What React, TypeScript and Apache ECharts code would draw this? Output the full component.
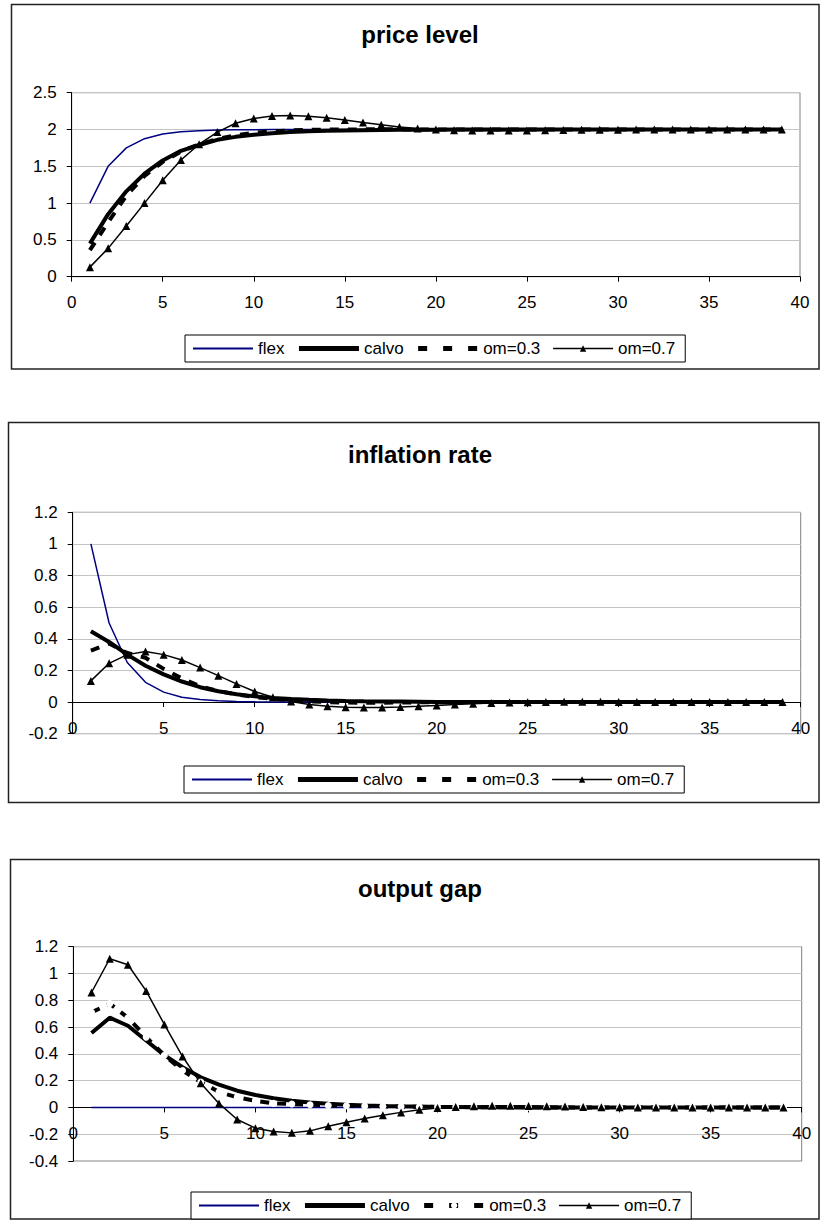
import React, { useEffect, useRef } from "react";
import * as echarts from "echarts";

const periods = [1, 2, 3, 4, 5, 6, 7, 8, 9, 10, 11, 12, 13, 14, 15, 16, 17, 18, 19, 20, 21, 22, 23, 24, 25, 26, 27, 28, 29, 30, 31, 32, 33, 34, 35, 36, 37, 38, 39];
const seriesNames = ["flex", "calvo", "om=0.3", "om=0.7"];
const titles = ["price level", "inflation rate", "output gap"];
const xTicks = { min: 0, max: 40, interval: 5 };
const yTicks = [
  { min: 0, max: 2.5, interval: 0.5 },
  { min: -0.2, max: 1.2, interval: 0.2 },
  { min: -0.4, max: 1.2, interval: 0.2 },
];

// price level
const priceFlex = [1, 1.5, 1.75, 1.875, 1.938, 1.969, 1.984, 1.992, 1.996, 1.998, 1.999, 2, 2, 2, 2, 2, 2, 2, 2, 2, 2, 2, 2, 2, 2, 2, 2, 2, 2, 2, 2, 2, 2, 2, 2, 2, 2, 2, 2];
const priceCalvo = [0.45, 0.85, 1.16, 1.4, 1.58, 1.71, 1.79, 1.86, 1.9, 1.93, 1.95, 1.965, 1.975, 1.982, 1.987, 1.99, 1.993, 1.995, 1.997, 1.998, 1.999, 1.999, 2, 2, 2, 2, 2, 2, 2, 2, 2, 2, 2, 2, 2, 2, 2, 2, 2];
const priceOm3 = [0.36, 0.74, 1.1, 1.37, 1.56, 1.7, 1.8, 1.87, 1.92, 1.955, 1.975, 1.988, 1.995, 1.999, 2.001, 2.002, 2.002, 2.002, 2.001, 2.001, 2, 2, 2, 2, 2, 2, 2, 2, 2, 2, 2, 2, 2, 2, 2, 2, 2, 2, 2];
const priceOm7 = [0.13, 0.385, 0.69, 1.0, 1.31, 1.585, 1.8, 1.965, 2.085, 2.15, 2.185, 2.19, 2.18, 2.16, 2.13, 2.095, 2.065, 2.035, 2.015, 2.0, 1.99, 1.985, 1.985, 1.985, 1.988, 1.99, 1.993, 1.995, 1.997, 1.998, 1.999, 1.999, 2, 2, 2, 2, 2, 2, 2];

// inflation rate
const infFlex = [1, 0.5, 0.25, 0.125, 0.063, 0.031, 0.016, 0.008, 0.004, 0.002, 0.001, 0, 0, 0, 0, 0, 0, 0, 0, 0, 0, 0, 0, 0, 0, 0, 0, 0, 0, 0, 0, 0, 0, 0, 0, 0, 0, 0, 0];
const infCalvo = [0.448, 0.38, 0.3, 0.23, 0.175, 0.13, 0.094, 0.068, 0.05, 0.036, 0.026, 0.019, 0.014, 0.01, 0.007, 0.005, 0.004, 0.003, 0.002, 0.001, 0.001, 0.001, 0, 0, 0, 0, 0, 0, 0, 0, 0, 0, 0, 0, 0, 0, 0, 0, 0];
const infOm3 = [0.325, 0.37, 0.31, 0.28, 0.21, 0.15, 0.1, 0.07, 0.048, 0.032, 0.02, 0.011, 0.004, 0, -0.003, -0.004, -0.004, -0.003, -0.002, -0.001, 0, 0, 0, 0, 0, 0, 0, 0, 0, 0, 0, 0, 0, 0, 0, 0, 0, 0, 0];
const infOm7 = [0.134, 0.245, 0.3, 0.32, 0.3, 0.266, 0.218, 0.167, 0.115, 0.067, 0.031, 0.004, -0.015, -0.027, -0.033, -0.035, -0.034, -0.031, -0.027, -0.021, -0.015, -0.01, -0.006, -0.003, -0.001, 0.001, 0.002, 0.002, 0.002, 0.001, 0.001, 0, 0, 0, 0, 0, 0, 0, 0];

// output gap
const outFlex = [0, 0, 0, 0, 0, 0, 0, 0, 0, 0, 0, 0, 0, 0, 0, 0, 0, 0, 0, 0, 0, 0, 0, 0, 0, 0, 0, 0, 0, 0, 0, 0, 0, 0, 0, 0, 0, 0, 0];
const outCalvo = [0.555, 0.67, 0.61, 0.5, 0.39, 0.3, 0.225, 0.17, 0.125, 0.093, 0.068, 0.05, 0.037, 0.027, 0.02, 0.015, 0.011, 0.008, 0.006, 0.004, 0.003, 0.002, 0.001, 0.001, 0, 0, 0, 0, 0, 0, 0, 0, 0, 0, 0, 0, 0, 0, 0];
const outOm3 = [0.71, 0.775, 0.67, 0.525, 0.39, 0.275, 0.19, 0.115, 0.075, 0.05, 0.03, 0.025, 0.02, 0.015, 0.012, 0.01, 0.008, 0.006, 0.005, 0.004, 0.003, 0.002, 0.002, 0.001, 0.001, 0, 0, 0, 0, 0, 0, 0, 0, 0, 0, 0, 0, 0, 0];
const outOm7 = [0.858, 1.11, 1.065, 0.87, 0.62, 0.38, 0.18, 0.03, -0.09, -0.155, -0.18, -0.19, -0.175, -0.14, -0.11, -0.082, -0.058, -0.037, -0.018, -0.005, 0.004, 0.009, 0.012, 0.012, 0.01, 0.008, 0.006, 0.004, 0.002, 0.001, 0, 0, 0, 0, 0, 0, 0, 0, 0];

const panelData = [
  [priceFlex, priceCalvo, priceOm3, priceOm7],
  [infFlex, infCalvo, infOm3, infOm7],
  [outFlex, outCalvo, outOm3, outOm7],
];

// layout (pixels)
const layouts = [
  { titleTop: 22, xLabelMargin: 17, grid: { left: 71.7, top: 92.7, width: 728.3, height: 184 }, legend: { left: 185, top: 335 }, frame: [11.5, 4.5, 807.5, 364.5] },
  { titleTop: 442, xLabelMargin: -14, grid: { left: 72.7, top: 512.3, width: 728, height: 221.4 }, legend: { left: 184, top: 766 }, frame: [8.5, 422.5, 810.5, 380] },
  { titleTop: 876, xLabelMargin: -36, grid: { left: 73.3, top: 946.7, width: 728.4, height: 214.3 }, legend: { left: 191, top: 1192 }, frame: [10.5, 859.5, 808.5, 359.5] },
];

const FONT = "'Liberation Sans', Arial, Helvetica, sans-serif";
const NAVY = "#000080";

export default function App() {
  const ref = useRef<HTMLDivElement>(null);
  useEffect(() => {
    document.body.style.margin = "0";
    const chart = echarts.init(ref.current as HTMLDivElement, null, { renderer: "svg" });

    const grid: any[] = [];
    const xAxis: any[] = [];
    const yAxis: any[] = [];
    const series: any[] = [];
    const title: any[] = [];
    const legend: any[] = [];
    const graphic: any[] = [];

    layouts.forEach((lay, i) => {
      grid.push({ ...lay.grid, show: true, borderColor: "#808080", borderWidth: 1, backgroundColor: "transparent", containLabel: false });
      xAxis.push({
        type: "value",
        gridIndex: i,
        min: xTicks.min,
        max: xTicks.max,
        interval: xTicks.interval,
        axisLine: { show: true, onZero: true, lineStyle: { color: "#000", width: 1 } },
        axisTick: { show: true, length: 5, inside: false, lineStyle: { color: "#000", width: 1 } },
        axisLabel: { color: "#000", fontSize: 17, fontFamily: FONT, margin: lay.xLabelMargin },
        splitLine: { show: false },
      });
      yAxis.push({
        type: "value",
        gridIndex: i,
        min: yTicks[i].min,
        max: yTicks[i].max,
        interval: yTicks[i].interval,
        axisLine: { show: true, onZero: false, lineStyle: { color: "#000", width: 1 } },
        axisTick: { show: true, length: 5, inside: false, lineStyle: { color: "#000", width: 1 } },
        axisLabel: { color: "#000", fontSize: 17, fontFamily: FONT, margin: 15 },
        splitLine: { show: true, lineStyle: { color: "#c4c4c4", width: 1 } },
      });
      const d = panelData[i];
      const pairs = (arr: number[]) => periods.map((p, k) => [p, arr[k]]);
      series.push({
        name: seriesNames[0], type: "line", xAxisIndex: i, yAxisIndex: i, data: pairs(d[0]),
        symbol: "none", lineStyle: { color: NAVY, width: 1.5 }, itemStyle: { color: NAVY }, silent: true,
      });
      series.push({
        name: seriesNames[1], type: "line", xAxisIndex: i, yAxisIndex: i, data: pairs(d[1]),
        symbol: "none", lineStyle: { color: "#000", width: 4 }, itemStyle: { color: "#000" }, silent: true,
      });
      series.push({
        name: seriesNames[2], type: "line", xAxisIndex: i, yAxisIndex: i, data: pairs(d[2]),
        symbol: i === 2 ? "circle" : "none", symbolSize: 7, showSymbol: i === 2,
        lineStyle: { color: "#000", width: 4, type: i === 2 ? [9, 8] : [9, 9] },
        itemStyle: { color: i === 2 ? "#fff" : "#000", borderWidth: 0 }, silent: true,
      });
      series.push({
        name: seriesNames[3], type: "line", xAxisIndex: i, yAxisIndex: i, data: pairs(d[3]),
        symbol: "triangle", symbolSize: 8, showSymbol: true,
        lineStyle: { color: "#000", width: 1.5 }, itemStyle: { color: "#000" }, silent: true,
      });
      title.push({
        text: titles[i],
        left: 420,
        top: lay.titleTop,
        textAlign: "center",
        padding: 0,
        textStyle: { fontFamily: FONT, fontSize: 24, fontWeight: "bold", color: "#000" },
      });
      legend.push({
        left: lay.legend.left,
        top: lay.legend.top,
        orient: "horizontal",
        itemWidth: 60,
        itemHeight: 8,
        itemGap: 12,
        padding: [5, 10, 5, 7],
        borderColor: "#000",
        borderWidth: 1,
        borderRadius: 0,
        backgroundColor: "#fff",
        selectedMode: false,
        textStyle: { fontFamily: FONT, fontSize: 17, color: "#000" },
        data: [
          { name: seriesNames[0], itemStyle: { opacity: 0 }, lineStyle: { color: NAVY, width: 2, type: "solid" } },
          { name: seriesNames[1], itemStyle: { opacity: 0 }, lineStyle: { color: "#000", width: 5, type: "solid" } },
          i === 2
            ? { name: seriesNames[2], itemStyle: { color: "#fff", opacity: 1, borderWidth: 0 }, lineStyle: { color: "#000", width: 5, type: [9, 16] } }
            : { name: seriesNames[2], itemStyle: { opacity: 0 }, lineStyle: { color: "#000", width: 5, type: [9, 16] } },
          { name: seriesNames[3], itemStyle: { color: "#000", opacity: 1 }, lineStyle: { color: "#000", width: 1.5, type: "solid" } },
        ],
      });
      const [fx, fy, fw, fh] = lay.frame;
      graphic.push({
        type: "rect",
        shape: { x: fx, y: fy, width: fw, height: fh },
        style: { fill: "none", stroke: "#222", lineWidth: 1.5 },
        silent: true,
      });
    });

    chart.setOption({
      animation: false,
      backgroundColor: "#fff",
      title,
      legend,
      grid,
      xAxis,
      yAxis,
      series,
      graphic,
    });
    return () => chart.dispose();
  }, []);
  return <div ref={ref} style={{ position: "absolute", left: 0, top: 0, width: 821, height: 1220 }} />;
}
